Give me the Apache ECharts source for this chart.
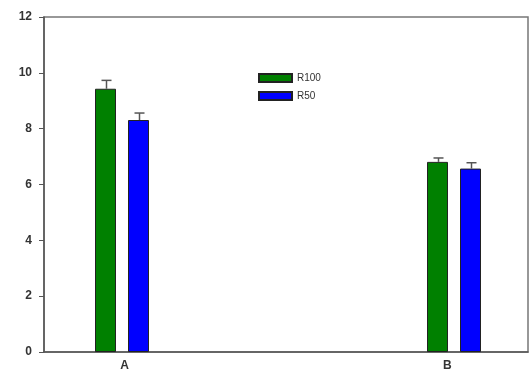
<!DOCTYPE html>
<html><head><meta charset="utf-8">
<script src="https://cdn.jsdelivr.net/npm/echarts@6/dist/echarts.min.js"></script>
<style>html,body{margin:0;padding:0;background:#fff}#c{width:530px;height:374px}</style>
</head><body><div id="c"></div>
<script>
var categories = ['A', '', 'B'];
var seriesNames = ['R100', 'R50'];
var r100 = [9.43, null, 6.81];
var r50 = [8.31, null, 6.57];
var r100Err = [0.30, null, 0.14];
var r50Err = [0.25, null, 0.21];
var yTicks = [0, 2, 4, 6, 8, 10, 12];

var colors = ['#008000', '#0000ff'];
var BAR_W = 21, BAR_GAP = 12;
var chart = echarts.init(document.getElementById('c'));

function errSeries(vals, errs, idx) {
  var data = vals.map(function (v, i) { return v == null ? null : [i, v, v + errs[i]]; }).filter(function (d) { return d; });
  var off = (idx === 0 ? -1 : 1) * (BAR_W + BAR_GAP) / 2;
  return {
    type: 'custom', z: 5, silent: true, xAxisIndex: 1, yAxisIndex: 1,
    data: data,
    renderItem: function (params, api) {
      var p0 = api.coord([api.value(0), api.value(1)]);
      var p1 = api.coord([api.value(0), api.value(2)]);
      var x = Math.round(p0[0] + off) + 0.5;
      return { type: 'group', children: [
        { type: 'line', shape: { x1: x, y1: p0[1], x2: x, y2: p1[1] }, style: { stroke: '#555', lineWidth: 1.5 } },
        { type: 'line', shape: { x1: x - 5, y1: p1[1], x2: x + 5, y2: p1[1] }, style: { stroke: '#555', lineWidth: 1.5 } }
      ]};
    }
  };
}

chart.setOption({
  animation: false,
  backgroundColor: '#fff',
  textStyle: { fontFamily: 'Liberation Sans, Arial, sans-serif' },
  grid: [
    { left: 44, right: 2, top: 17, bottom: 22, show: true, borderColor: '#777', borderWidth: 1.5, backgroundColor: 'transparent', outerBoundsMode: 'none' },
    { left: 39, width: 498, top: 17, bottom: 22, outerBoundsMode: 'none' }
  ],
  legend: {
    orient: 'vertical', left: 258, top: 73, padding: 0,
    itemWidth: 33, itemHeight: 8, itemGap: 8,
    textStyle: { fontSize: 10, color: '#333', fontFamily: 'Liberation Sans, Arial, sans-serif' },
    data: seriesNames.map(function (n) { return { name: n, icon: 'rect' }; })
  },
  xAxis: [
    { type: 'category', data: categories, gridIndex: 0,
      axisLine: { lineStyle: { color: '#555', width: 1.5 } },
      axisTick: { show: false },
      axisLabel: { color: '#333', fontWeight: 'bold', fontSize: 12, margin: 8 } },
    { type: 'category', data: categories, gridIndex: 1, show: false }
  ],
  yAxis: [
    { type: 'value', min: 0, max: 12, interval: 2, gridIndex: 0,
      axisLine: { show: true, lineStyle: { color: '#555', width: 1.5 } },
      axisTick: { show: true, length: 5, lineStyle: { color: '#555' } },
      axisLabel: { color: '#333', fontWeight: 'bold', fontSize: 12, margin: 12,
        formatter: function (v) { return yTicks.indexOf(v) >= 0 ? String(v) : ''; } },
      splitLine: { show: false } },
    { type: 'value', min: 0, max: 12, interval: 2, gridIndex: 1, show: false, splitLine: { show: false } }
  ],
  series: [
    { name: seriesNames[0], type: 'bar', data: r100, barWidth: BAR_W, barGap: (BAR_GAP / BAR_W * 100) + '%',
      xAxisIndex: 1, yAxisIndex: 1,
      itemStyle: { color: colors[0], borderColor: '#222', borderWidth: 1 } },
    { name: seriesNames[1], type: 'bar', data: r50, barWidth: BAR_W,
      xAxisIndex: 1, yAxisIndex: 1,
      itemStyle: { color: colors[1], borderColor: '#222', borderWidth: 1 } },
    errSeries(r100, r100Err, 0),
    errSeries(r50, r50Err, 1)
  ]
});
</script></body></html>
